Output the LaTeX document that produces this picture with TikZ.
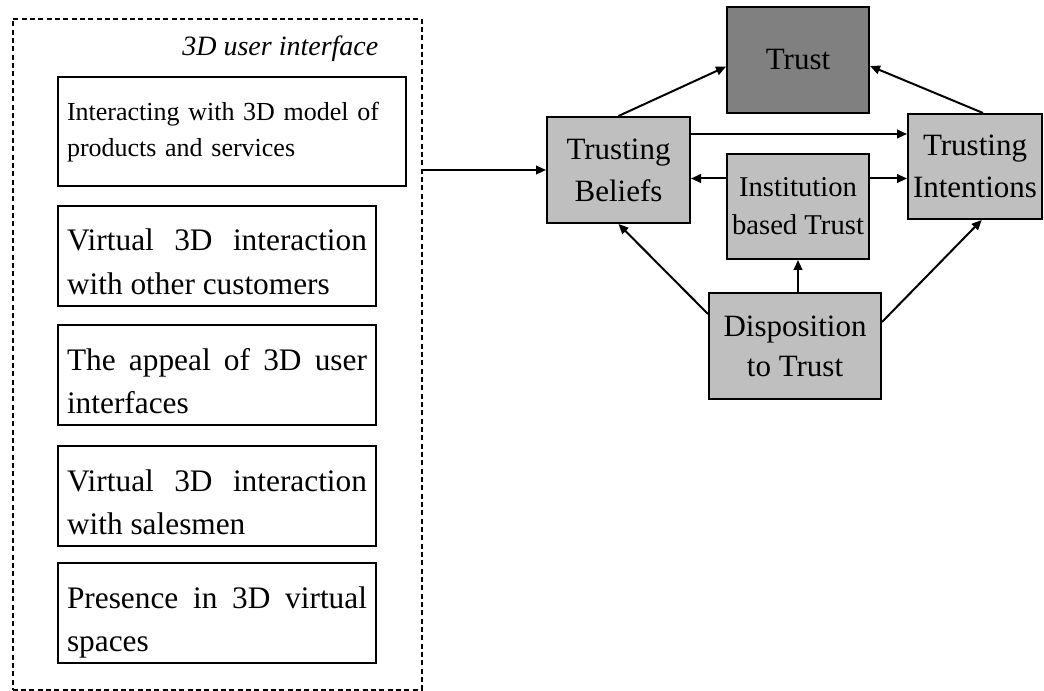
\documentclass[tikz,border=0pt]{standalone}
\usepackage{fontspec}
\setmainfont{Liberation Serif}
\usetikzlibrary{arrows.meta}
\hyphenpenalty=10000

\begin{document}
\begin{tikzpicture}[x=0.75pt, y=-0.75pt,
    uibox/.style={draw, line width=1.5pt, anchor=north west, inner xsep=6.75pt, inner ysep=0pt,
        minimum width=238.5pt, text width=225pt, align=justify,
        text height=33.75pt, text depth=41.25pt,
        font=\fontsize{23.5}{32.25}\selectfont},
    trustbox/.style={draw, line width=1.5pt, fill=gray!50, inner sep=0pt, align=center,
        font=\fontsize{23.25}{31.5}\selectfont},
    link/.style={line width=1.5pt, -{Triangle[length=7.5pt, width=6.5pt]}}]
    \useasboundingbox (0,0) rectangle (1044,691);

    % 3D user interface
    \node[draw, dash pattern=on 3.75pt off 2.5pt, line width=1.2pt, anchor=north west,
          minimum width=306.75pt, minimum height=503.25pt] (ui) at (12,18) {};
    \node[anchor=base east, font=\fontsize{21}{25}\selectfont\itshape] (ui_title) at (383,56) {3D user interface};
    \node[uibox, minimum width=261pt, text width=247.5pt, align=left,
          text height=33pt, text depth=48.75pt,
          font=\fontsize{19.5}{27}\selectfont] (ui_model) at (57,76)
        {Interacting with 3D model of products and services};
    \node[uibox] (ui_cust) at (57,205) {Virtual 3D interaction with other customers};
    \node[uibox] (ui_appeal) at (57,324) {The appeal of 3D user interfaces};
    \node[uibox] (ui_sales) at (57,445) {Virtual 3D interaction with salesmen};
    \node[uibox] (ui_presence) at (57,562) {Presence in 3D virtual spaces};

    % trust model
    \node[trustbox, fill=gray, minimum width=106.5pt, minimum height=79.5pt] (trust) at (798,60) {Trust};
    \node[trustbox, minimum width=107.25pt, minimum height=79.5pt] (t_beliefs) at (618.5,170) {Trusting\\Beliefs};
    \node[trustbox, minimum width=100.5pt, minimum height=78.75pt] (t_intent) at (975,166.5) {Trusting\\Intentions};
    \node[trustbox, minimum width=106.5pt, minimum height=78.75pt,
          font=\fontsize{21.5}{28.5}\selectfont] (inst) at (798,206.5) {Institution\\based Trust};
    \node[trustbox, minimum width=129pt, minimum height=79.5pt,
          font=\fontsize{23.25}{30}\selectfont] (disp) at (795,346) {Disposition\\to Trust};

    % connections
    \draw[link] (ui.east |- t_beliefs.west) -- (t_beliefs.west);
    \draw[link] (t_beliefs.north) -- ([yshift=-5pt]trust.west);
    \draw[link] ([xshift=6pt]t_intent.north) -- ([yshift=-4.5pt]trust.east);
    \draw[link] ([yshift=27pt]t_beliefs.east) -- ([yshift=27pt]t_beliefs.east -| t_intent.west);
    \draw[link] ([yshift=21pt]inst.west) -- ([yshift=21pt]inst.west -| t_beliefs.east);
    \draw[link] ([yshift=21pt]inst.east) -- ([yshift=21pt]inst.east -| t_intent.west);
    \draw[link] (inst.south |- disp.north) -- (inst.south);
    \draw[link] ([yshift=24pt]disp.west) -- (t_beliefs.south);
    \draw[link] ([yshift=18pt]disp.east) -- ([xshift=5pt]t_intent.south);
\end{tikzpicture}
\end{document}
